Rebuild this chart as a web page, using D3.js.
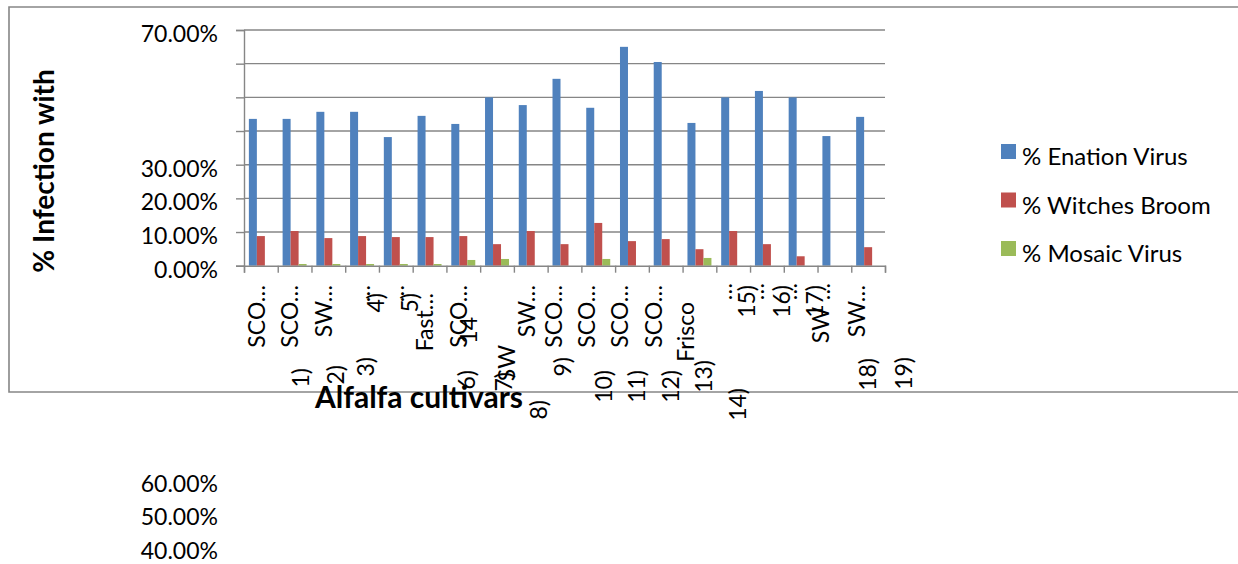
<!DOCTYPE html>
<html>
<head>
<meta charset="utf-8">
<script src="https://cdn.jsdelivr.net/npm/d3@7"></script>
<style>
  html, body { margin: 0; padding: 0; background: #fff; }
  svg { display: block; }
  text { font-family: Lato, "Open Sans", sans-serif; fill: #000; }
</style>
</head>
<body>
<svg id="chart" width="1238" height="564"></svg>
<script>
// ---- data -------------------------------------------------------------
const seriesNames = ["% Enation Virus", "% Witches Broom", "% Mosaic Virus"];
const seriesColors = ["#4F81BD", "#C0504D", "#9BBB59"];

// infection rates (%) per cultivar, in plotting order
const enationVirus = [43.6, 43.6, 45.7, 45.7, 38.2, 44.5, 42.1, 50.0, 47.7, 55.5,
                      46.9, 65.0, 60.5, 42.4, 50.0, 51.9, 50.0, 38.5, 44.2];
const witchesBroom = [8.8, 10.3, 8.2, 8.8, 8.5, 8.5, 8.8, 6.4, 10.3, 6.4,
                      12.7, 7.3, 7.9, 4.9, 10.3, 6.4, 2.8, 0.0, 5.5];
const mosaicVirus  = [0.0, 0.5, 0.5, 0.5, 0.5, 0.5, 1.7, 2.0, 0.0, 0.0,
                      2.0, 0.0, 0.0, 2.3, 0.0, 0.0, 0.0, 0.0, 0.0];

// wrapped cultivar labels, one list of text lines per category
const cultivarLabelLines = [
  ["SCO…", "1)"], ["SCO…", "2)"], ["SW…", "3)"], ["…", "4)"], ["…", "5)"],
  ["Fast…", "6)"], ["SCO…", "14", "7)"], ["SW", "8)"], ["SW…", "9)"],
  ["SCO…", "10)"], ["SCO…", "11)"], ["SCO…", "12)"], ["SCO…", "13)"],
  ["Frisco", "14)"], ["…", "15)"], ["…", "16)"], ["…", "17)", "SW"],
  ["…", "18)"], ["SW…", "19)"]
];

const yTickValues = [0, 0.1, 0.2, 0.3, 0.4, 0.5, 0.6, 0.7];
const yTitle = "% Infection with";
const xTitle = "Alfalfa cultivars";

// ---- layout -------------------------------------------------------------
const W = 1238, H = 564;
const plot = { left: 244, right: 885, top: 30, bottom: 265.7 };
const gridColor = "#868686";

// where each wrapped label line lands: [offset from band centre, top of text]
const labelLineLayout = [
  [[4, 285], [48, 368]], [[3.5, 285], [49, 365]], [[3.5, 285], [46, 357]],
  [[8, 285], [22, 293]], [[8, 285], [22, 293]], [[3.5, 293], [45, 370]],
  [[4, 285], [14, 317], [49, 372]], [[18, 345], [50, 400]], [[4, 285], [40, 357]],
  [[-2.5, 285], [47, 370]], [[-3, 285], [47, 370]], [[-4, 285], [47, 370]],
  [[-4, 285], [46, 360]], [[-5, 302], [47, 388]], [[-1, 283], [22, 285]],
  [[-3, 283], [23, 285]], [[-4, 283], [22, 285], [28, 307]],
  [[-4, 283], [42, 358]], [[-3, 285], [44, 357]]
];

const svg = d3.select("#chart");

// ---- scales ---------------------------------------------------------------
const idx = d3.range(enationVirus.length);
const x = d3.scaleBand().domain(idx).range([plot.left, plot.right]).paddingInner(0).paddingOuter(0);
const xs = d3.scaleBand().domain([0, 1, 2]).range([0, x.bandwidth()]).paddingInner(0).paddingOuter(0.61);
const y = d3.scaleLinear().domain([0, 0.7]).range([plot.bottom, plot.top]);

// outer chart frame
svg.append("path")
  .attr("d", `M${W + 2},7 H9 V392 H${W + 2}`)
  .attr("fill", "none").attr("stroke", gridColor).attr("stroke-width", 1.6);

// horizontal gridlines
svg.append("g").selectAll("line").data(yTickValues.filter(v => v > 0)).join("line")
  .attr("x1", plot.left).attr("x2", plot.right)
  .attr("y1", d => y(d)).attr("y2", d => y(d))
  .attr("stroke", gridColor).attr("stroke-width", 1.4);

// bars
const series = [enationVirus, witchesBroom, mosaicVirus];
series.forEach((vals, s) => {
  svg.append("g").selectAll("rect").data(vals).join("rect")
    .attr("x", (d, i) => x(i) + xs(s))
    .attr("width", xs.bandwidth())
    .attr("y", d => y(d / 100))
    .attr("height", d => y(0) - y(d / 100))
    .attr("fill", seriesColors[s]);
});

// y axis
const yAxis = svg.append("g")
  .attr("transform", `translate(${plot.left},0)`)
  .call(d3.axisLeft(y).tickValues(yTickValues).tickFormat(d3.format(".2%")).tickSize(8).tickPadding(18));
yAxis.select(".domain").attr("stroke", gridColor).attr("stroke-width", 1.4);
yAxis.selectAll(".tick line").attr("stroke", gridColor).attr("stroke-width", 1.4);
yAxis.selectAll(".tick text")
  .style("font-size", "23px").style("font-family", "Lato, sans-serif").attr("fill", "#000")
  .attr("dx", 0).attr("dy", "0.35em")
  .attr("y", d => 3.5 + (d >= 0.35 && d <= 0.65 ? 416 : 0));

// x axis: baseline and band separators
const xAxis = svg.append("g")
  .attr("transform", `translate(0,${plot.bottom})`)
  .call(d3.axisBottom(d3.scaleLinear().domain([0, idx.length]).range([plot.left, plot.right]))
        .tickValues(d3.range(idx.length + 1)).tickSize(7).tickFormat(""));
xAxis.select(".domain").attr("stroke", gridColor).attr("stroke-width", 1.4);
xAxis.selectAll(".tick line").attr("stroke", gridColor).attr("stroke-width", 1.4);

// rotated cultivar labels
const labelG = svg.append("g").style("font-size", "23px");
cultivarLabelLines.forEach((lines, i) => {
  lines.forEach((t, k) => {
    const [dx, top] = labelLineLayout[i][k];
    labelG.append("text")
      .attr("transform", `translate(${x(i) + x.bandwidth() / 2 + dx},${top}) rotate(-90)`)
      .attr("text-anchor", "end")
      .text(t);
  });
});

// axis titles
svg.append("text")
  .attr("transform", `translate(54,171) rotate(-90)`)
  .attr("text-anchor", "middle")
  .style("font-size", "28px").style("font-weight", "bold")
  .text(yTitle);
svg.append("text")
  .attr("x", 419).attr("y", 408)
  .attr("text-anchor", "middle")
  .style("font-size", "30px").style("font-weight", "bold")
  .text(xTitle);

// legend
const legend = svg.append("g");
seriesNames.forEach((name, s) => {
  const ly = 144 + s * 48.5;
  legend.append("rect").attr("x", 1001).attr("y", ly).attr("width", 15).attr("height", 15)
    .attr("fill", seriesColors[s]);
  legend.append("text").attr("x", 1022).attr("y", ly + 21)
    .style("font-size", "24px").text(name);
});
</script>
</body>
</html>
